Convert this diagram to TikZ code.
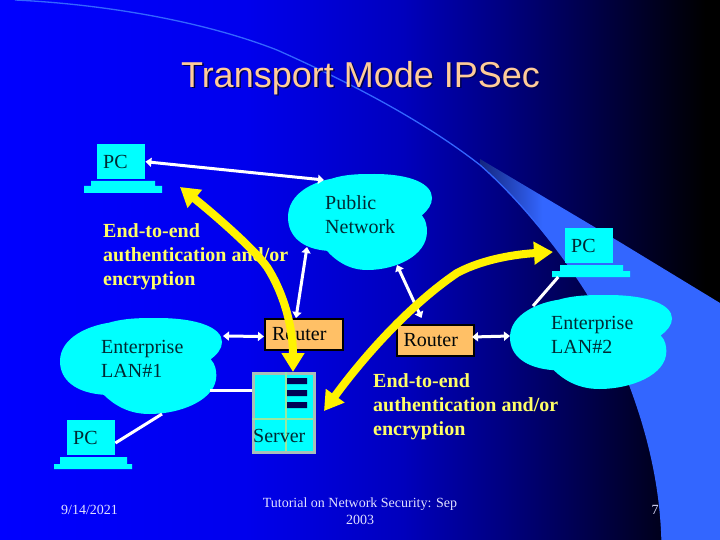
\documentclass[tikz,border=0pt]{standalone}
\usepackage{fontspec}
\setmainfont{Liberation Serif}
\newfontfamily\titlefont{Liberation Sans}
\usetikzlibrary{arrows.meta,calc}
\definecolor{cyanfill}{HTML}{00FFFF}
\definecolor{swooshblue}{HTML}{3366FF}
\definecolor{routerfill}{HTML}{FFC066}
\definecolor{labeltxt}{HTML}{002A33}
\definecolor{notetxt}{HTML}{FFFF66}
\definecolor{titletxt}{HTML}{FFCC99}
\definecolor{servergrey}{HTML}{A8C0B8}
\definecolor{servergrid}{HTML}{99E8A0}
\definecolor{slotnavy}{HTML}{000055}
\pgfdeclarehorizontalshading{slidebg}{100bp}{rgb(0bp)=(0,0,1);rgb(25bp)=(0,0,1);rgb(42bp)=(0,0,.93);rgb(53bp)=(0,0,.74);rgb(60bp)=(0,0,.5);rgb(67bp)=(0,0,.25);rgb(74bp)=(0,0,0);rgb(75bp)=(0,0,0);rgb(100bp)=(0,0,0)}
\pgfdeclarehorizontalshading{swooshbg}{100bp}{rgb(0bp)=(.08,.15,.5);rgb(25bp)=(.08,.15,.5);rgb(38bp)=(.2,.4,1);rgb(100bp)=(.2,.4,1)}
\newcommand{\cloudshape}[4]{%
  \begin{scope}[shift={(#1,#2)},x=#3pt,y=-#4pt]
  \fill[cyanfill] (0,.45) .. controls (0,.2) and (.18,.08) .. (.3,.05)
    .. controls (.4,0) and (.5,0) .. (.6,0)
    .. controls (.85,0) and (1,.1) .. (1,.25)
    .. controls (1,.32) and (.97,.38) .. (.93,.43)
    .. controls (.96,.48) and (.965,.55) .. (.965,.6)
    .. controls (.965,.85) and (.75,1) .. (.55,1)
    .. controls (.42,1) and (.33,.9) .. (.27,.8)
    .. controls (.1,.78) and (0,.65) .. (0,.45) -- cycle;
  \end{scope}}
\tikzset{
  pcscreen/.style={fill=cyanfill,minimum width=48pt,minimum height=35pt,inner xsep=6pt,inner ysep=0pt,text width=36pt,align=left,text=labeltxt,font=\fontsize{20}{24}\selectfont,anchor=north west},
  pcbase/.style={fill=cyanfill},
  routerbox/.style={fill=routerfill,draw=black,line width=2pt,minimum height=31pt,inner xsep=6pt,inner ysep=0pt,text width=64pt,align=left,text=black!85!labeltxt,font=\fontsize{20}{24}\selectfont,anchor=north west},
  cloudtxt/.style={anchor=west,align=left,inner sep=0pt,text=labeltxt,font=\fontsize{20}{24}\selectfont},
  notetext/.style={anchor=west,align=left,inner sep=0pt,text=notetxt,font=\fontsize{20}{24}\selectfont\bfseries},
  footer/.style={inner sep=0pt,text=white!88!blue,font=\fontsize{14}{17}\selectfont,align=center},
  linkboth/.style={white,line width=3pt,{Triangle[length=6pt,width=9pt]}-{Triangle[length=6pt,width=9pt]}},
  linkplain/.style={white,line width=3pt},
  flowarrow/.style={yellow,line width=8pt,{Triangle[length=19pt,width=22pt]}-{Triangle[length=19pt,width=22pt]}}
}
\begin{document}
\begin{tikzpicture}[x=1pt,y=-1pt]
\useasboundingbox (0,0) rectangle (720,540);
\path[shading=slidebg,shading angle=0] (0,0) rectangle (720,540);
\path[shading=swooshbg] (480,159) -- (618,241) -- (720,303) -- (720,540) -- (662,540)
  .. controls (660,470) and (640,390) .. (587,293)
  .. controls (560,250) and (520,200) .. (480,165) -- cycle;
\draw[swooshblue,line width=1.3pt] (662,540) .. controls (660,470) and (640,390) .. (587,293)
  .. controls (560,250) and (520,200) .. (480,165)
  .. controls (420,118) and (340,78) .. (277,50)
  .. controls (200,20) and (100,4) .. (15,0);
% title
\node[anchor=base,inner sep=0pt,text=black!70!blue,font=\titlefont\fontsize{36}{40}\selectfont] (titleshadow) at (362,89) {Transport Mode IPSec};
\node[anchor=base,inner sep=0pt,text=titletxt,font=\titlefont\fontsize{36}{40}\selectfont] (title) at (360.5,87.5) {Transport Mode IPSec};
% clouds
\cloudshape{288}{174}{144}{96}
\cloudshape{60}{318}{162}{96}
\cloudshape{510}{295}{162}{94}
\coordinate (pubTL) at (324,180);
\coordinate (pubBL) at (307,247);
\coordinate (pubB) at (397,265);
\coordinate (lanOneE) at (223,336);
\coordinate (lanOneS) at (210,390);
\coordinate (lanOneB) at (162,414);
\coordinate (lanTwoW) at (510,336);
\coordinate (lanTwoT) at (533,306);
\node[cloudtxt] (pubtext) at (325,215) {Public\\Network};
\node[cloudtxt] (lanonetext) at (101,359) {Enterprise\\LAN\#1};
\node[cloudtxt] (lantwotext) at (551,335) {Enterprise\\LAN\#2};
% PCs
\node[pcscreen] (pcA) at (97,144) {PC};
\fill[pcbase] (91,181) rectangle (155,186) (84,186) rectangle (162,193);
\node[pcscreen] (pcB) at (565,228) {PC};
\fill[pcbase] (560,265) rectangle (623,271) (552,271) rectangle (630,277);
\node[pcscreen] (pcC) at (67,420) {PC};
\fill[pcbase] (60,457) rectangle (127,464) (54,464) rectangle (132,469);
% routers
\node[routerbox,minimum width=78pt] (routerA) at (264,318) {Router};
\node[routerbox,minimum width=77pt] (routerB) at (396,324) {Router};
% server
\node[fill=cyanfill,draw=servergrey,line width=2.5pt,minimum width=61pt,minimum height=79pt,inner sep=0pt,anchor=north west] (server) at (252,372) {};
\draw[servergrid,line width=1.2pt] (286,372) -- (286,451) (252,419) -- (313,419);
\fill[slotnavy] (287,378) rectangle (307,384) (287,390) rectangle (307,396) (287,402) rectangle (307,408);
\node[cloudtxt] (servertext) at (253,436) {Server};
% links
\draw[linkboth] (pcA.east) -- (pubTL);
\draw[linkboth] ([xshift=-8pt]routerA.north) -- (pubBL);
\draw[linkboth] ([shift={(-14pt,6pt)}]routerB.north) -- (pubB);
\draw[linkboth] (lanOneE) -- ([yshift=-2pt]routerA.west);
\draw[linkboth] ([shift={(-3pt,3.5pt)}]routerB.east) -- (lanTwoW);
\draw[linkplain] (lanTwoT) -- ([xshift=-31pt]pcB.south |- 0,277);
\draw[linkplain] (lanOneS) -- (server.west |- lanOneS);
\draw[linkplain] (lanOneB) -- (pcC.east |- 0,443);
% notes
\node[notetext] (noteA) at (103,257) {End-to-end\\authentication and/or\\encryption};
\node[notetext] (noteB) at (373,407) {End-to-end\\authentication and/or\\encryption};
% yellow
\coordinate (flowAend) at (180,187);
\coordinate (flowBstart) at (324,411);
\coordinate (flowBend) at (553,252);
\draw[flowarrow] (flowAend) .. controls (215,215) and (255,250) .. (267,267)
  .. controls (285,295) and (293,330) .. (293,372);
\draw[flowarrow] (flowBstart) .. controls (365,355) and (410,305) .. (457,273)
  .. controls (485,258) and (520,254) .. (flowBend);
% footer
\node[footer,anchor=west] (date) at (61,510) {9/14/2021};
\node[footer] (tutorial) at (360,511) {Tutorial on Network Security: Sep\\2003};
\node[footer] (pagenum) at (655,510) {7};
\end{tikzpicture}
\end{document}
